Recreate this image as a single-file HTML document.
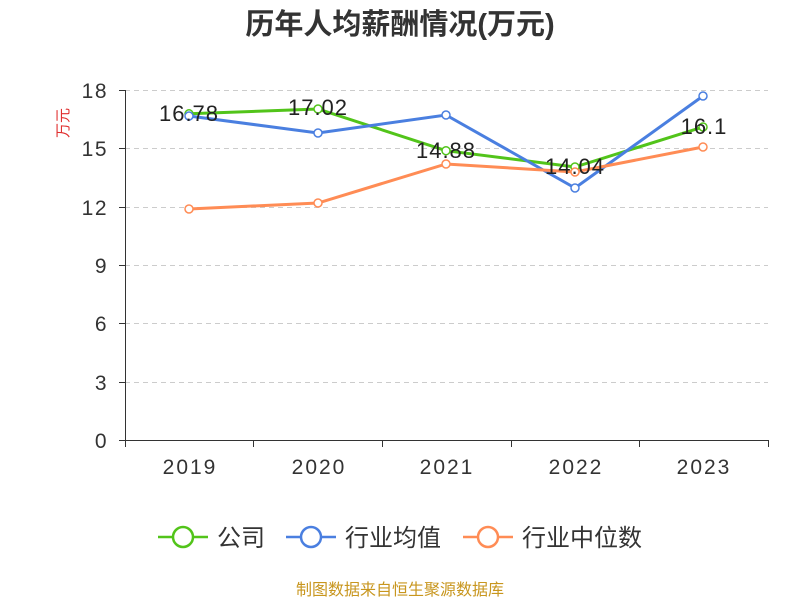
<!DOCTYPE html>
<html><head><meta charset="utf-8"><style>
body{margin:0;background:#fff;}
svg{display:block;font-family:"Liberation Sans","Noto Sans CJK SC",sans-serif;}
</style></head><body>
<svg width="800" height="600" viewBox="0 0 800 600">
<text x="400" y="34" text-anchor="middle" font-size="29" font-weight="bold" fill="#333">历年人均薪酬情况(万元)</text>
<g stroke="#ccc" stroke-dasharray="5,4" stroke-width="1">
<line x1="125" x2="768" y1="90.5" y2="90.5"/>
<line x1="125" x2="768" y1="148.5" y2="148.5"/>
<line x1="125" x2="768" y1="207.5" y2="207.5"/>
<line x1="125" x2="768" y1="265.5" y2="265.5"/>
<line x1="125" x2="768" y1="323.5" y2="323.5"/>
<line x1="125" x2="768" y1="382.5" y2="382.5"/>
</g>
<g stroke="#333" stroke-width="1">
<line x1="125.5" x2="125.5" y1="90" y2="440"/>
<line x1="125" x2="768" y1="440.5" y2="440.5"/>
<line x1="119" x2="125" y1="90.5" y2="90.5"/><line x1="119" x2="125" y1="148.5" y2="148.5"/>
<line x1="119" x2="125" y1="207.5" y2="207.5"/><line x1="119" x2="125" y1="265.5" y2="265.5"/>
<line x1="119" x2="125" y1="323.5" y2="323.5"/><line x1="119" x2="125" y1="382.5" y2="382.5"/>
<line x1="119" x2="125" y1="440.5" y2="440.5"/>
<line x1="125.5" x2="125.5" y1="440" y2="447"/><line x1="253.5" x2="253.5" y1="440" y2="447"/>
<line x1="382.5" x2="382.5" y1="440" y2="447"/><line x1="511.5" x2="511.5" y1="440" y2="447"/>
<line x1="639.5" x2="639.5" y1="440" y2="447"/><line x1="768.5" x2="768.5" y1="440" y2="447"/>
</g>
<g font-size="21" fill="#333" text-anchor="end" letter-spacing="1.5">
<text x="108" y="98">18</text><text x="108" y="156">15</text><text x="108" y="215">12</text>
<text x="108" y="273">9</text><text x="108" y="331">6</text><text x="108" y="390">3</text><text x="108" y="448">0</text>
</g>
<g font-size="21" fill="#333" text-anchor="middle" letter-spacing="2">
<text x="190" y="474">2019</text><text x="319" y="474">2020</text><text x="447" y="474">2021</text>
<text x="576" y="474">2022</text><text x="704" y="474">2023</text>
</g>
<text transform="translate(68,123) rotate(-90)" font-size="15" fill="#e03030" text-anchor="middle">万元</text>
<polyline fill="none" stroke="#52c41a" stroke-width="3" points="189,113.8 318,109 446,150.7 575,167 703,127"/>
<polyline fill="none" stroke="#4a7fe0" stroke-width="3" points="189,116 318,133 446,115 575,188 703,96"/>
<polyline fill="none" stroke="#ff8c55" stroke-width="3" points="189,209 318,203 446,164 575,172 703,147"/>
<g fill="#fff" stroke-width="1.5">
<g stroke="#52c41a"><circle cx="189" cy="113.8" r="4"/><circle cx="318" cy="109" r="4"/><circle cx="446" cy="150.7" r="4"/><circle cx="575" cy="167" r="4"/><circle cx="703" cy="127" r="4"/></g>
<g stroke="#4a7fe0"><circle cx="189" cy="116" r="4"/><circle cx="318" cy="133" r="4"/><circle cx="446" cy="115" r="4"/><circle cx="575" cy="188" r="4"/><circle cx="703" cy="96" r="4"/></g>
<g stroke="#ff8c55"><circle cx="189" cy="209" r="4"/><circle cx="318" cy="203" r="4"/><circle cx="446" cy="164" r="4"/><circle cx="575" cy="172" r="4"/><circle cx="703" cy="147" r="4"/></g>
</g>
<g font-size="22" fill="#222" text-anchor="middle" letter-spacing="1">
<text x="189" y="121">16.78</text><text x="318" y="115">17.02</text><text x="446" y="158">14.88</text>
<text x="575" y="174">14.04</text><text x="704" y="134">16.1</text>
</g>
<g stroke-width="2.5" fill="#fff">
<line x1="158" x2="208" y1="537" y2="537" stroke="#52c41a"/><circle cx="183" cy="537" r="10" stroke="#52c41a"/>
<line x1="286" x2="336" y1="537" y2="537" stroke="#4a7fe0"/><circle cx="311" cy="537" r="10" stroke="#4a7fe0"/>
<line x1="463" x2="513" y1="537" y2="537" stroke="#ff8c55"/><circle cx="488" cy="537" r="10" stroke="#ff8c55"/>
</g>
<g font-size="24" fill="#333">
<text x="217" y="546">公司</text><text x="345" y="546">行业均值</text><text x="522" y="546">行业中位数</text>
</g>
<text x="400" y="595" text-anchor="middle" font-size="16" fill="#c8961e">制图数据来自恒生聚源数据库</text>
</svg>
</body></html>
